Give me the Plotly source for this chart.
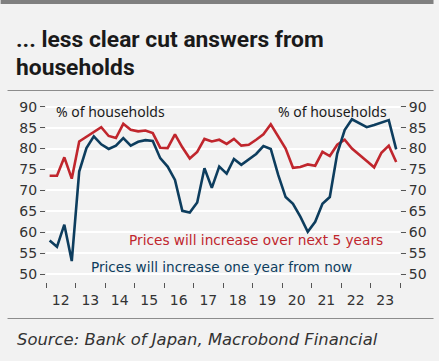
import pandas as pd
import plotly.graph_objects as go

# ---- data (quarterly, 2012Q1 .. 2023Q4) ----
quarters = pd.period_range("2012Q1", "2023Q4", freq="Q")
five_year = [73.5, 73.5, 77.9, 72.8, 81.7, 82.8, 84.1, 85.1, 83.0, 82.5, 85.9, 84.5,
             84.1, 84.3, 83.7, 80.2, 80.1, 83.4, 80.3, 77.6, 79.2, 82.3, 81.7, 82.1,
             81.1, 82.3, 80.7, 80.9, 82.1, 83.4, 85.8, 82.8, 80.0, 75.4, 75.6, 76.2,
             75.9, 79.2, 78.2, 80.9, 82.1, 80.0, 78.4, 77.0, 75.5, 79.0, 80.7, 76.8]
one_year = [58.0, 56.5, 61.8, 53.1, 74.5, 80.1, 82.9, 81.0, 79.9, 80.7, 82.5, 80.7,
            81.6, 82.0, 81.8, 77.7, 75.7, 72.5, 65.1, 64.7, 67.1, 75.3, 70.6, 75.7,
            74.0, 77.5, 76.1, 77.4, 78.7, 80.6, 79.9, 73.7, 68.4, 66.8, 63.7, 60.1,
            62.5, 66.8, 68.4, 78.8, 84.4, 87.0, 86.0, 85.1, 85.6, 86.2, 86.8, 79.8]
y_ticks = [50, 55, 60, 65, 70, 75, 80, 85, 90]

title_lines = ["... less clear cut answers from", "households"]
label_five = "Prices will increase over next 5 years"
label_one = "Prices will increase one year from now"
unit_label = "% of households"
source = "Source: Bank of Japan, Macrobond Financial"

dates = quarters.to_timestamp(how="start") + pd.Timedelta(days=45)

RED = "#c0262d"
BLUE = "#0d3d5e"
BG = "#f2f2f2"

W, H = 439, 361
L, R, T, B = 46, 34, 100, 79
PW, PH = W - L - R, H - T - B


def px(xp):
    return (xp - L) / PW


def py(yp):
    return (H - B - yp) / PH


fig = go.Figure()
fig.add_trace(go.Scatter(x=dates, y=five_year, mode="lines",
                         line=dict(color=RED, width=2.6), showlegend=False))
fig.add_trace(go.Scatter(x=dates, y=one_year, mode="lines",
                         line=dict(color=BLUE, width=2.6), showlegend=False))
fig.add_trace(go.Scatter(x=dates[:1], y=[None], yaxis="y2", showlegend=False,
                         hoverinfo="skip"))

yrange = [48.1, 91.6]
tickfont = dict(family="DejaVu Sans", size=14, color="#333333")

fig.update_layout(
    width=W, height=H,
    margin=dict(l=L, r=R, t=T, b=B),
    paper_bgcolor=BG, plot_bgcolor=BG,
    xaxis=dict(type="date", range=["2012-01-01", "2024-01-01"],
               tick0="2012-01-01", dtick="M12", tickformat="%y",
               ticklabelmode="period", ticks="outside", ticklen=5,
               tickcolor="#555555", showgrid=False, zeroline=False,
               showline=False, tickfont=tickfont),
    yaxis=dict(range=yrange, tickvals=y_ticks, ticks="outside", ticklen=5,
               tickcolor="#555555", gridcolor="#ffffff", gridwidth=1.5,
               zeroline=False, showline=False, tickfont=tickfont),
    yaxis2=dict(range=yrange, tickvals=y_ticks, overlaying="y", side="right",
                ticks="outside", ticklen=5, tickcolor="#555555",
                showgrid=False, zeroline=False, showline=False,
                tickfont=tickfont),
)

title_text = "<br>".join(
    "<span style='font-size:22.8px'>" + t + "</span>" for t in title_lines)

ann = [
    dict(text=title_text, x=px(14), y=py(53.5), xanchor="left", yanchor="middle",
         align="left",
         font=dict(family="Roboto", size=21.5, color="#1a1a1a", weight="bold")),
    dict(text=unit_label, x=px(54), y=py(111), xanchor="left", yanchor="middle",
         font=dict(family="Noto Sans", size=14, color="#1a1a1a")),
    dict(text=unit_label, x=px(394), y=py(111), xanchor="right", yanchor="middle",
         font=dict(family="Noto Sans", size=14, color="#1a1a1a")),
    dict(text=label_five, x=px(128), y=py(240), xanchor="left", yanchor="middle",
         font=dict(family="DejaVu Sans", size=13.7, color=RED)),
    dict(text=label_one, x=px(90), y=py(267), xanchor="left", yanchor="middle",
         font=dict(family="DejaVu Sans", size=13.6, color=BLUE)),
    dict(text="<i>" + source + "</i>", x=px(15), y=py(339), xanchor="left",
         yanchor="middle", font=dict(family="DejaVu Sans", size=16.4, color="#333333")),
]
for a in ann:
    a.update(xref="paper", yref="paper", showarrow=False)
fig.update_layout(annotations=ann)

shapes = [
    dict(type="rect", x0=px(0), x1=px(W), y0=py(0), y1=py(4),
         fillcolor="#808080", line=dict(width=0)),
    dict(type="line", x0=px(7), x1=px(W), y0=py(90.5), y1=py(90.5),
         line=dict(color="#8c8c8c", width=1)),
    dict(type="line", x0=px(7), x1=px(W), y0=py(318.5), y1=py(318.5),
         line=dict(color="#8c8c8c", width=1)),
]
for s in shapes:
    s.update(xref="paper", yref="paper", layer="above")
fig.update_layout(shapes=shapes)

fig.write_html("out.html")
